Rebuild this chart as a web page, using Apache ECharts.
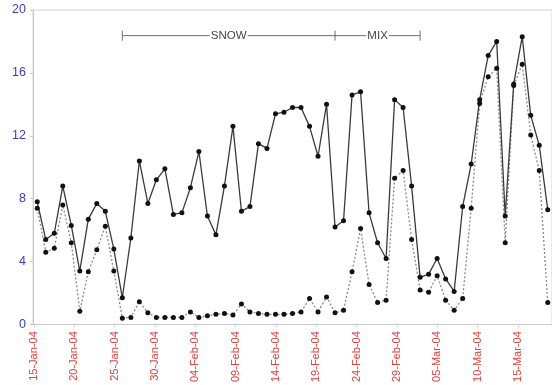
<!DOCTYPE html>
<html><head><meta charset="utf-8">
<script src="https://cdn.jsdelivr.net/npm/echarts@6/dist/echarts.min.js"></script>
<style>html,body{margin:0;padding:0;background:#fff}#c{width:552px;height:385px}</style>
</head><body><div id="c"></div>
<script>
const dates = [
 '15-Jan-04','16-Jan-04','17-Jan-04','18-Jan-04','19-Jan-04','20-Jan-04','21-Jan-04','22-Jan-04','23-Jan-04','24-Jan-04',
 '25-Jan-04','26-Jan-04','27-Jan-04','28-Jan-04','29-Jan-04','30-Jan-04','31-Jan-04','01-Feb-04','02-Feb-04','03-Feb-04',
 '04-Feb-04','05-Feb-04','06-Feb-04','07-Feb-04','08-Feb-04','09-Feb-04','10-Feb-04','11-Feb-04','12-Feb-04','13-Feb-04',
 '14-Feb-04','15-Feb-04','16-Feb-04','17-Feb-04','18-Feb-04','19-Feb-04','20-Feb-04','21-Feb-04','22-Feb-04','23-Feb-04',
 '24-Feb-04','25-Feb-04','26-Feb-04','27-Feb-04','28-Feb-04','29-Feb-04','01-Mar-04','02-Mar-04','03-Mar-04','04-Mar-04',
 '05-Mar-04','06-Mar-04','07-Mar-04','08-Mar-04','09-Mar-04','10-Mar-04','11-Mar-04','12-Mar-04','13-Mar-04','14-Mar-04',
 '15-Mar-04'];
const solidValues = [7.8,5.4,5.8,8.8,6.3,3.4,6.7,7.7,7.2,4.8,
 1.7,5.5,10.4,7.7,9.2,9.9,7.0,7.1,8.7,11.0,
 6.9,5.7,8.8,12.6,7.2,7.5,11.5,11.2,13.4,13.5,
 13.8,13.8,12.6,10.7,14.0,6.2,6.6,14.6,14.8,7.1,
 5.2,4.2,14.3,13.8,8.8,3.0,3.2,4.2,2.9,2.1,
 7.5,10.2,14.3,17.1,18.0,6.9,15.3,18.3,13.3,11.4,7.3];
const dottedValues = [7.4,4.6,4.85,7.6,5.2,0.85,3.35,4.75,6.25,3.4,
 0.4,0.45,1.45,0.75,0.45,0.45,0.45,0.45,0.8,0.45,
 0.55,0.65,0.7,0.6,1.3,0.8,0.7,0.65,0.65,0.65,
 0.7,0.8,1.65,0.8,1.75,0.75,0.9,3.35,6.1,2.55,
 1.4,1.55,9.3,9.8,5.4,2.2,2.05,3.1,1.55,0.9,
 1.65,7.4,14.05,15.75,16.3,5.2,15.2,16.55,12.05,9.8,1.4];
const yTicks = {min:0, max:20, interval:4};
const periodLabels = ['SNOW','MIX'];
const periodBounds = ['25-Jan-04','19-Feb-04','29-Feb-04'];
const periodLevel = 18.37;

const FONT = 'Liberation Sans, Arial, sans-serif';
const chart = echarts.init(document.getElementById('c'), null, {renderer:'canvas'});
chart.setOption({
  animation:false,
  backgroundColor:'#fff',
  grid:[
    {left:33, top:10, width:521.6, height:314.5, show:true, borderColor:'#d4d4d4', borderWidth:1},
    {left:34, top:10, width:484, height:314.5}
  ],
  xAxis:[
    {type:'category', gridIndex:0, data:dates, boundaryGap:true,
     axisLine:{lineStyle:{color:'#c8c8c8'}}, axisTick:{show:false}, axisLabel:{show:false}, splitLine:{show:false}},
    {type:'category', gridIndex:1, data:dates, boundaryGap:false,
     axisLine:{show:false}, axisTick:{show:true, interval:4, length:3, lineStyle:{color:'#d0d0d0'}},
     axisLabel:{interval:4, rotate:90, color:'#e8403a', fontSize:11, fontFamily:FONT, margin:7},
     splitLine:{show:false}}
  ],
  yAxis:[
    {type:'value', gridIndex:0, min:yTicks.min, max:yTicks.max, interval:yTicks.interval,
     axisLine:{show:true, lineStyle:{color:'#c8c8c8'}}, axisTick:{show:true, length:3, lineStyle:{color:'#c8c8c8'}},
     axisLabel:{color:'#3a3ad2', fontSize:12.5, fontFamily:FONT, margin:7}, splitLine:{show:false}},
    {type:'value', gridIndex:1, min:yTicks.min, max:yTicks.max, show:false}
  ],
  series:[
    {type:'line', xAxisIndex:0, yAxisIndex:0, data:dottedValues, symbol:'circle', symbolSize:5,
     itemStyle:{color:'#111'}, lineStyle:{color:'#8a8a8a', width:1.3, type:[2,2]}},
    {type:'line', xAxisIndex:0, yAxisIndex:0, data:solidValues, symbol:'circle', symbolSize:5,
     itemStyle:{color:'#111'}, lineStyle:{color:'#3a3a3a', width:1.3}}
  ]
});

const pts = periodBounds.map(d => chart.convertToPixel({xAxisIndex:0, yAxisIndex:0}, [d, periodLevel]));
const g = [];
g.push({type:'line', shape:{x1:pts[0][0], y1:pts[0][1], x2:pts[pts.length-1][0], y2:pts[0][1]}, style:{stroke:'#707070', lineWidth:1}, z:10});
pts.forEach(p => g.push({type:'line', shape:{x1:p[0], y1:p[1]-5, x2:p[0], y2:p[1]+5}, style:{stroke:'#707070', lineWidth:1}, z:10}));
periodLabels.forEach((t,i) => {
  const cx = (pts[i][0] + pts[i+1][0]) / 2;
  g.push({type:'text', x:cx, y:pts[0][1], z:11,
    style:{text:t, fill:'#444', font:'11.5px ' + FONT, align:'center', verticalAlign:'middle', backgroundColor:'#fff', padding:[0,1]}});
});
chart.setOption({graphic:g});
</script></body></html>
